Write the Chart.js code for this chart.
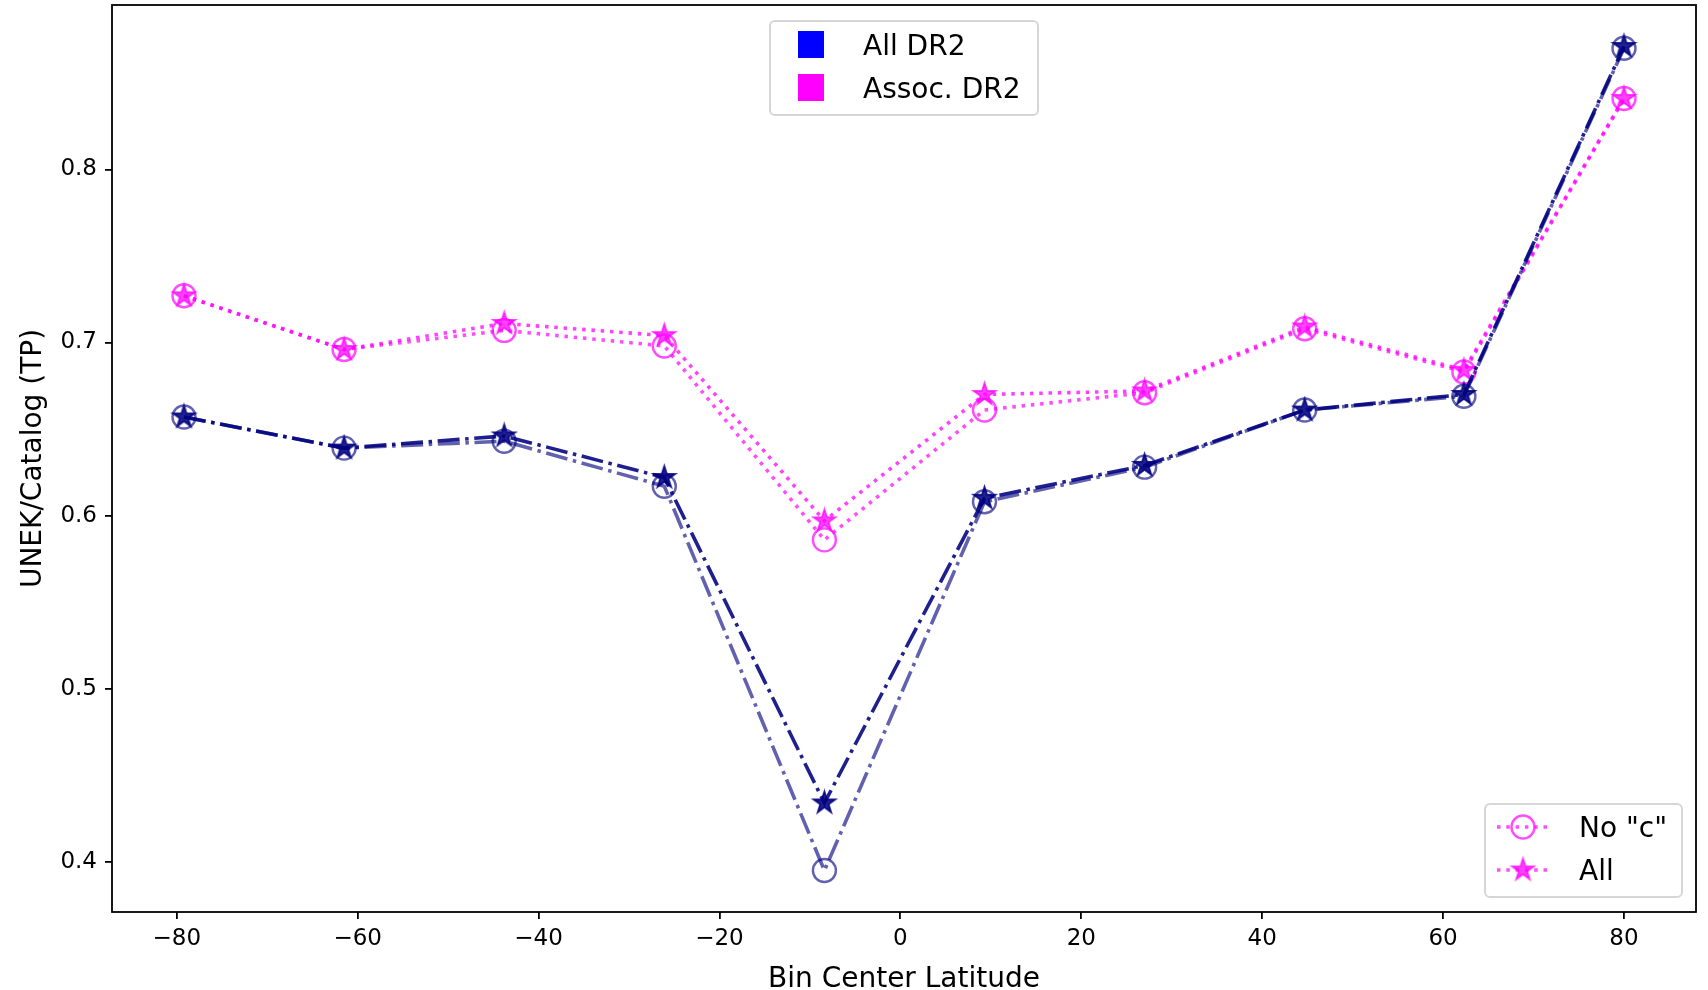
<!DOCTYPE html>
<html>
<head>
<meta charset="utf-8">
<script src="https://cdn.jsdelivr.net/npm/chart.js@4.4.1/dist/chart.umd.min.js"></script>
<style>
  html, body { margin: 0; padding: 0; background: #fff; }
  #wrap { width: 1708px; height: 990px; }
</style>
</head>
<body>
<div id="wrap"><canvas id="chart" width="1708" height="990"></canvas></div>
<script>
// bin centers (deg) and TP ratios
const binCenters = [-79.2, -61.5, -43.8, -26.1, -8.4, 9.3, 27.0, 44.7, 62.3, 80.0];
const allDr2All = [0.657, 0.639, 0.646, 0.622, 0.434, 0.610, 0.629, 0.661, 0.670, 0.871];
const allDr2NoC = [0.657, 0.639, 0.643, 0.617, 0.395, 0.608, 0.628, 0.661, 0.669, 0.870];
const assocAll = [0.727, 0.696, 0.711, 0.704, 0.597, 0.670, 0.672, 0.709, 0.684, 0.841];
const assocNoC = [0.727, 0.696, 0.707, 0.698, 0.586, 0.661, 0.671, 0.708, 0.683, 0.841];
const xTicks = [-80, -60, -40, -20, 0, 20, 40, 60, 80];
const yTicks = [0.4, 0.5, 0.6, 0.7, 0.8];

const FONT = '"DejaVu Sans", sans-serif';
const blueStar = "rgba(0, 0, 128, 0.88)";
const blueCirc = "rgba(0, 0, 128, 0.62)";
const pinkStar = "rgba(255, 0, 255, 0.75)";
const pinkCirc = "rgba(255, 0, 255, 0.7)";
const dashDot = [22, 5.6, 3.5, 5.6];
const dotted = [3.5, 5.8];

// filled 5-point star marker (matplotlib '*')
function makeStar(color, r) {
  const size = Math.ceil(r * 2 + 6);
  const c = document.createElement("canvas");
  c.width = size;
  c.height = size;
  const g = c.getContext("2d");
  const cx = size / 2, cy = size / 2;
  g.beginPath();
  for (let i = 0; i < 10; i++) {
    const rad = i % 2 ? r * 0.382 : r;
    const a = -Math.PI / 2 + (i * Math.PI) / 5;
    g.lineTo(cx + rad * Math.cos(a), cy + rad * Math.sin(a));
  }
  g.closePath();
  g.fillStyle = color;
  g.fill();
  g.lineWidth = 1.8;
  g.lineJoin = "miter";
  g.strokeStyle = color;
  g.stroke();
  return c;
}

const starBlue = makeStar(blueStar, 11.5);
const starPink = makeStar(pinkStar, 11.5);

function pts(ys) {
  return binCenters.map((x, i) => ({ x: x, y: ys[i] }));
}

function lineSet(label, ys, color, dash, marker, order) {
  const isCircle = marker === "circle";
  return {
    label: label,
    data: pts(ys),
    borderColor: color,
    borderWidth: 3.6,
    borderDash: dash,
    tension: 0,
    fill: false,
    pointStyle: marker,
    pointRadius: 11.5,
    pointBorderWidth: isCircle ? 2.4 : 0,
    pointBorderColor: color,
    pointBackgroundColor: isCircle ? "rgba(0,0,0,0)" : color,
    order: order,
  };
}

// spines and the two legends, drawn over the data like matplotlib does
const overlay = {
  id: "overlay",
  afterDraw(chart) {
    const ctx = chart.ctx;
    const a = chart.chartArea;
    ctx.save();

    ctx.strokeStyle = "#000";
    ctx.lineWidth = 1.8;
    ctx.setLineDash([]);
    ctx.strokeRect(a.left, a.top, a.right - a.left, a.bottom - a.top);

    function frame(x, y, w, h) {
      ctx.beginPath();
      ctx.roundRect(x, y, w, h, 5);
      ctx.fillStyle = "rgba(255,255,255,0.8)";
      ctx.fill();
      ctx.strokeStyle = "#d6d6d6";
      ctx.lineWidth = 2;
      ctx.stroke();
    }

    ctx.font = "28px " + FONT;
    ctx.textAlign = "left";
    ctx.textBaseline = "alphabetic";

    // upper center legend: colour patches
    const cx = (a.left + a.right) / 2;
    const lx = cx - 134, ly = a.top + 16;
    frame(lx, ly, 268, 94);
    ctx.fillStyle = "#0000ff";
    ctx.fillRect(lx + 28, ly + 10, 26, 27);
    ctx.fillStyle = "#ff00ff";
    ctx.fillRect(lx + 28, ly + 53, 26, 27);
    ctx.fillStyle = "#000";
    ctx.fillText("All DR2", lx + 93, ly + 33.5);
    ctx.fillText("Assoc. DR2", lx + 93, ly + 76.7);

    // lower right legend: marker styles
    const bx = a.right - 211, by = a.bottom - 108;
    frame(bx, by, 197, 93);
    const rows = [
      { y: by + 23, label: 'No "c"', marker: "circle" },
      { y: by + 66, label: "All", marker: "star" },
    ];
    rows.forEach((r) => {
      ctx.strokeStyle = pinkCirc;
      ctx.lineWidth = 3.6;
      ctx.setLineDash(dotted);
      ctx.beginPath();
      ctx.moveTo(bx + 12, r.y);
      ctx.lineTo(bx + 64, r.y);
      ctx.stroke();
      ctx.setLineDash([]);
      const mx = bx + 38;
      if (r.marker === "circle") {
        ctx.beginPath();
        ctx.arc(mx, r.y, 11.5, 0, Math.PI * 2);
        ctx.lineWidth = 2.4;
        ctx.strokeStyle = pinkCirc;
        ctx.stroke();
      } else {
        ctx.drawImage(starPink, mx - starPink.width / 2, r.y - starPink.height / 2);
      }
      ctx.fillStyle = "#000";
      ctx.fillText(r.label, bx + 94, r.y + 10);
    });

    ctx.restore();
  },
};

const tickFont = { family: FONT, size: 23 };

new Chart(document.getElementById("chart").getContext("2d"), {
  type: "line",
  data: {
    datasets: [
      lineSet("All DR2 - All", allDr2All, blueStar, dashDot, starBlue, 0),
      lineSet('All DR2 - No "c"', allDr2NoC, blueCirc, dashDot, "circle", 1),
      lineSet("Assoc. DR2 - All", assocAll, pinkStar, dotted, starPink, 2),
      lineSet('Assoc. DR2 - No "c"', assocNoC, pinkCirc, dotted, "circle", 3),
    ],
  },
  options: {
    responsive: false,
    animation: false,
    layout: { autoPadding: false, padding: { left: 0, top: 5, right: 12, bottom: 0 } },
    plugins: {
      legend: { display: false },
      tooltip: { enabled: false },
    },
    scales: {
      x: {
        type: "linear",
        position: "bottom",
        min: -87.16,
        max: 87.96,
        afterBuildTicks: (s) => { s.ticks = xTicks.map((v) => ({ value: v })); },
        afterFit: (s) => {
          s.height = 78;
          s.paddingLeft = 0;
          s.paddingRight = 0;
        },
        grid: { drawOnChartArea: false, drawTicks: true, tickLength: 7, color: "#000", lineWidth: 1.8 },
        border: { display: false },
        ticks: {
          color: "#000",
          font: tickFont,
          padding: 6,
          maxRotation: 0,
          callback: (v) => (v < 0 ? "\u2212" + Math.abs(v) : String(v)),
        },
        title: {
          display: true,
          text: "Bin Center Latitude",
          color: "#000",
          font: { family: FONT, size: 28, lineHeight: 0.7 },
          padding: { top: 0, bottom: 0 },
        },
      },
      y: {
        type: "linear",
        min: 0.371,
        max: 0.895,
        afterBuildTicks: (s) => { s.ticks = yTicks.map((v) => ({ value: v })); },
        afterFit: (s) => {
          s.width = 112;
          s.paddingTop = 0;
          s.paddingBottom = 0;
        },
        grid: { drawOnChartArea: false, drawTicks: true, tickLength: 7, color: "#000", lineWidth: 1.8 },
        border: { display: false },
        ticks: {
          color: "#000",
          font: tickFont,
          padding: 8,
          callback: (v) => v.toFixed(1),
        },
        title: {
          display: true,
          text: "UNEK/Catalog (TP)",
          color: "#000",
          font: { family: FONT, size: 28 },
          padding: { top: 17, bottom: 0 },
        },
      },
    },
  },
  plugins: [overlay],
});
</script>
</body>
</html>
